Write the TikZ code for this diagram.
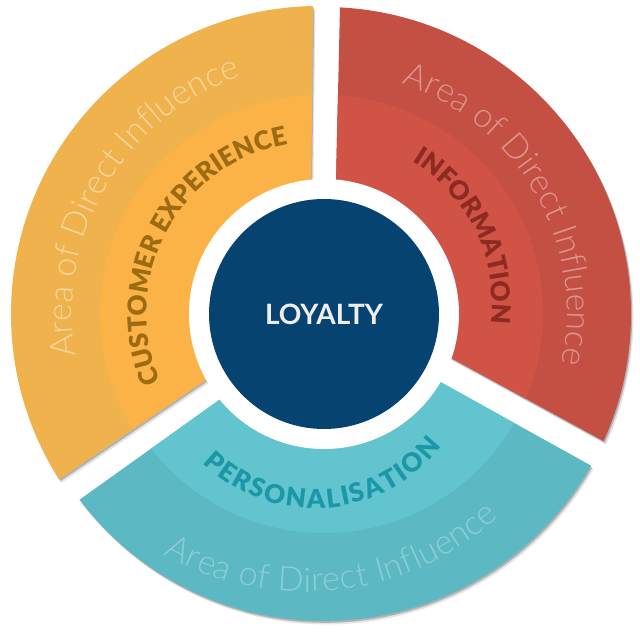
\documentclass[tikz,border=0pt]{standalone}
\usepackage{fontspec}
\setmainfont{Lato}
\newfontfamily\latoblack{Lato Black}
\newfontfamily\latolight{Lato Light}
\usetikzlibrary{decorations.text}
\definecolor{yOut}{HTML}{EFB24C}
\definecolor{yIn}{HTML}{FBB347}
\definecolor{yBold}{HTML}{9C6B12}
\definecolor{rOut}{HTML}{C44F43}
\definecolor{rIn}{HTML}{D05346}
\definecolor{rBold}{HTML}{8B2B22}
\definecolor{tOut}{HTML}{5CB9C3}
\definecolor{tIn}{HTML}{62C4CE}
\definecolor{tBold}{HTML}{1A98A8}
\definecolor{navy}{HTML}{064370}
\definecolor{loyal}{HTML}{EEEEEE}
\colorlet{yArea}{white!45!yOut}
\colorlet{rArea}{white!40!rOut}
\colorlet{tArea}{white!30!tOut}
\newcommand\piece[5]{%
  \begin{scope}[shift={(2.5,-3.5)}]\clip #1; \fill[black,opacity=.10] #2 circle (#3);\end{scope}
  \begin{scope}[shift={(1.2,-1.8)}]\clip #1; \fill[black,opacity=.22] #2 circle (#3);\end{scope}
  \begin{scope}\clip #1; \fill[#4] #2 circle (#3); \fill[#5] #2 circle (219);\end{scope}}
\tikzset{
  lighttext/.style={decorate, decoration={text along path, text align=fit to path,
    text color=#1, text={|\latolight\fontsize{34}{34}\selectfont|Area of Direct Influence}}},
  boldtext/.style 2 args={decorate, decoration={text along path, text align=fit to path,
    text color=#1, text={|\latoblack\fontsize{26}{26}\selectfont|#2}}}
}
\begin{document}
\begin{tikzpicture}[x=1pt,y=1pt]
\useasboundingbox (0,0) rectangle (640,632);
\fill[white] (0,0) rectangle (640,632);
% sectors
\piece{(313.66,682) -- (309.5,322.3) -- (-100,44.7) -- (-100,682) -- cycle}{(319,318)}{308}{yOut}{yIn}
\piece{(341.3,682) -- (333.4,338.2) -- (740,116.6) -- (740,682) -- cycle}{(324,318)}{307}{rOut}{rIn}
\piece{(-100,4.1) -- (330.1,311.2) -- (740,83.7) -- (740,-168) -- (-100,-168) -- cycle}{(324,318)}{307}{tOut}{tIn}
% centre
\fill[white] (324,318) circle (135);
\node[circle, fill=navy, minimum size=230pt, inner sep=0pt] (core) at (324,318) {};
\node[text=loyal, font=\bfseries\fontsize{28}{28}\selectfont] (loyalty) at (324,318) {LOYALTY};
% light texts
\path[lighttext=yArea] (324,318) ++(189.5:252) arc[start angle=189.5, end angle=110.5, radius=252];
\path[lighttext=rArea] (324,318) ++(71.4:243) arc[start angle=71.4, end angle=-11.3, radius=243];
\path[lighttext=tArea] (305.5,327) ++(240.4:287) arc[start angle=240.4, end angle=312.4, radius=287];
% bold texts
\path[boldtext={yBold}{CUSTOMER EXPERIENCE}] (318,319) ++(203.5:171.5) arc[start angle=203.5, end angle=100, radius=171.5];
\path[boldtext={rBold}{INFORMATION}] (327,329) ++(59:165) arc[start angle=59, end angle=-7, radius=165];
\path[boldtext={tBold}{PERSONALISATION}] (314.6,283.6) ++(225.7:160) arc[start angle=225.7, end angle=322.4, radius=160];
\end{tikzpicture}
\end{document}
